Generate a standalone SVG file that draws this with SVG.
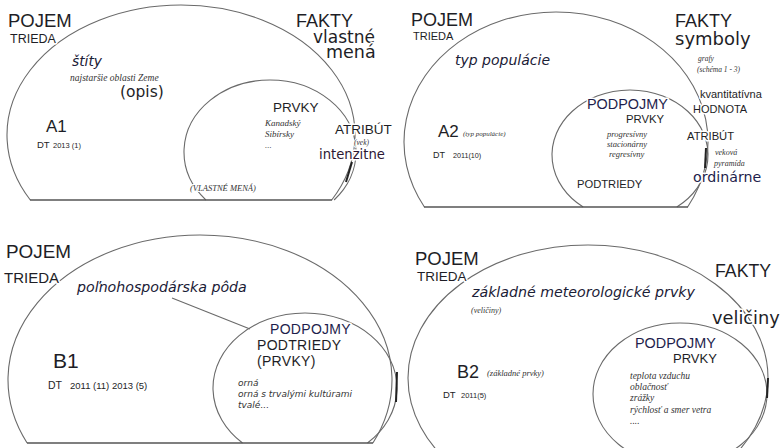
<svg xmlns="http://www.w3.org/2000/svg" width="784" height="448" viewBox="0 0 784 448">
<style>
.bg{fill:#fff}
.ln{fill:none;stroke:#6a6a6a;stroke-width:1.1}
.base{fill:none;stroke:#555;stroke-width:1.5}
.dk{fill:none;stroke:#222;stroke-width:2}
text{font-family:"Liberation Sans",Arial,sans-serif;fill:#1e1e26;paint-order:stroke;stroke:#fff;stroke-width:3px;stroke-linejoin:round}
.dv{font-family:"DejaVu Sans",Verdana,sans-serif}
.it{font-family:"DejaVu Sans",Verdana,sans-serif;font-style:italic;fill:#1b2036}
.sr{font-family:"Liberation Serif","Times New Roman",serif;font-style:italic;fill:#333;stroke-width:2px}
.nv{fill:#1e1e4c}
.pu{fill:#2d1834}
.g3{fill:#333}
</style>
<rect class="bg" x="0" y="0" width="784" height="448"/>

<g id="A1">
  <path class="ln" d="M30.3,200 A174,130 0 1,1 331.7,200"/>
  <path class="ln" d="M205.9,200 A86,72 0 1,1 334.1,200"/>
  <line class="base" x1="30" y1="200" x2="332" y2="200"/>
  <path class="dk" d="M352,162 L346,182"/>
  <text><tspan x="8" y="27" font-size="18.5">POJEM</tspan><tspan x="10" y="43" font-size="12.5">TRIEDA</tspan></text>
  <text class="it" x="72" y="66" font-size="13.8">štíty</text>
  <text class="sr" x="70" y="81" font-size="9.5">najstaršie oblasti Zeme</text>
  <text class="dv" x="120" y="97" font-size="15.5">(opis)</text>
  <text x="46" y="132" font-size="17">A1</text>
  <text><tspan x="37" y="148" font-size="9.5">DT</tspan><tspan x="53" y="148" font-size="7.5">2013 (1)</tspan></text>
  <text><tspan x="296" y="27" font-size="18">FAKTY</tspan><tspan class="dv" x="313" y="43" font-size="17">vlastné</tspan><tspan class="dv" x="326" y="57.5" font-size="17.5">mená</tspan></text>
  <text x="273" y="112" font-size="13.5">PRVKY</text>
  <text class="sr" font-size="9"><tspan x="265" y="126">Kanadský</tspan><tspan x="265" y="137">Sibírsky</tspan><tspan x="265" y="148">...</tspan></text>
  <text><tspan x="335" y="134" font-size="13.5">ATRIBÚT</tspan><tspan class="sr" x="354" y="144.5" font-size="7.5">(vek)</tspan><tspan class="dv pu" x="319" y="158.5" font-size="13.2">intenzitne</tspan></text>
  <text class="sr" x="190" y="191" font-size="8.5">(VLASTNÉ MENÁ)</text>
</g>

<g id="A2">
  <path class="ln" d="M424.4,207 A152,130 0 1,1 687.6,207"/>
  <path class="ln" d="M583.2,207 A78,65 0 1,1 676.8,207"/>
  <line class="base" x1="424" y1="207" x2="688" y2="207"/>
  <path class="dk" d="M706,148 L705,168"/>
  <text><tspan x="411" y="26" font-size="18">POJEM</tspan><tspan x="413" y="40.3" font-size="11">TRIEDA</tspan></text>
  <text class="it" x="455" y="65" font-size="14">typ populácie</text>
  <text x="438" y="137" font-size="17">A2</text>
  <text class="sr" x="463" y="136" font-size="7">(typ populácie)</text>
  <text><tspan x="433" y="158" font-size="9">DT</tspan><tspan x="453" y="158" font-size="7.2">2011(10)</tspan></text>
  <text><tspan x="675" y="26.5" font-size="18">FAKTY</tspan><tspan class="dv" x="675" y="44.5" font-size="18">symboly</tspan></text>
  <text class="sr" font-size="7.5"><tspan x="698" y="61">grafy</tspan><tspan x="697" y="72">(schéma 1 - 3)</tspan></text>
  <text font-size="11"><tspan x="700" y="98">kvantitatívna</tspan><tspan x="693" y="113">HODNOTA</tspan></text>
  <text><tspan x="687" y="140" font-size="11.2">ATRIBÚT</tspan><tspan class="sr" x="715" y="155" font-size="8">veková</tspan><tspan class="sr" x="714" y="166" font-size="8">pyramída</tspan><tspan class="dv nv" x="693" y="181.5" font-size="14.2">ordinárne</tspan></text>
  <text><tspan class="nv" x="587" y="109" font-size="14.4">PODPOJMY</tspan><tspan x="626" y="122.7" font-size="11.3">PRVKY</tspan></text>
  <text class="sr" font-size="8.5"><tspan x="607" y="137">progresívny</tspan><tspan x="607" y="147">stacionárny</tspan><tspan x="609" y="157">regresívny</tspan></text>
  <text x="577" y="188" font-size="11.2">PODTRIEDY</text>
</g>

<g id="B1">
  <path class="ln" d="M27.1,443 A192,145 0 1,1 372.9,443"/>
  <path class="ln" d="M242.5,443 A92,75 0 1,1 367.5,443"/>
  <line class="base" x1="27" y1="443" x2="373" y2="443"/>
  <path class="dk" d="M397,372 L396,402"/>
  <text><tspan x="6" y="258" font-size="18.9">POJEM</tspan><tspan x="4" y="283" font-size="15">TRIEDA</tspan></text>
  <text class="it" x="77" y="292" font-size="14.2">poľnohospodárska pôda</text>
  <text x="53" y="368" font-size="21">B1</text>
  <text><tspan x="48" y="389" font-size="10.5">DT</tspan><tspan x="70" y="389" font-size="9.5">2011 (11) 2013  (5)</tspan></text>
  <text font-size="14" letter-spacing="0.3"><tspan class="nv" x="270" y="334">PODPOJMY</tspan><tspan x="257" y="350.3">PODTRIEDY</tspan><tspan x="257" y="366">(PRVKY)</tspan></text>
  <text class="it g3" font-size="9" style="fill:#333"><tspan x="238" y="386">orná</tspan><tspan x="238" y="397">orná s trvalými kultúrami</tspan><tspan x="238" y="408">tvalé...</tspan></text>
</g>

<g id="B2">
  <ellipse class="ln" cx="588" cy="378" rx="180" ry="133"/>
  <ellipse class="ln" cx="680" cy="394" rx="87" ry="71"/>
  <path class="dk" d="M768,378 L767,398"/>
  <text><tspan x="415" y="265" font-size="18.5">POJEM</tspan><tspan x="417" y="281.3" font-size="13.5">TRIEDA</tspan></text>
  <text class="it" x="472" y="297" font-size="14.2">základné meteorologické prvky</text>
  <text class="sr" x="471" y="313" font-size="8">(veličiny)</text>
  <text x="715" y="277" font-size="17.7">FAKTY</text>
  <text class="dv" x="712" y="324" font-size="17.8">veličiny</text>
  <text><tspan class="nv" x="635" y="348" font-size="14.4">PODPOJMY</tspan><tspan x="673" y="363.2" font-size="13">PRVKY</tspan></text>
  <text x="457" y="378" font-size="18">B2</text>
  <text class="sr" x="487" y="376" font-size="8.5">(základné prvky)</text>
  <text><tspan x="443" y="398" font-size="9.5">DT</tspan><tspan x="461" y="398" font-size="7.5">2011(5)</tspan></text>
  <text class="sr" font-size="9.5"><tspan x="630" y="379">teplota vzduchu</tspan><tspan x="630" y="390">oblačnosť</tspan><tspan x="630" y="401">zrážky</tspan><tspan x="630" y="413">rýchlosť a smer vetra</tspan><tspan x="630" y="424">....</tspan></text>
</g>

<g id="connectors">
  <line class="ln" x1="172" y1="298" x2="250" y2="329"/>
</g>
</svg>
